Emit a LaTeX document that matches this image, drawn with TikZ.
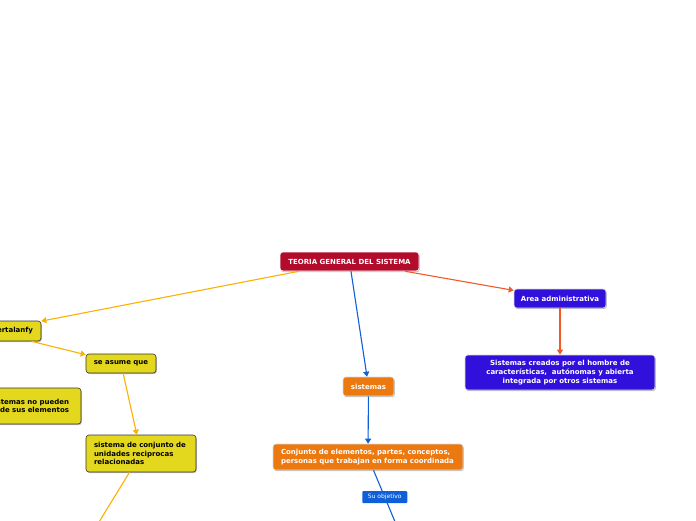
\documentclass[tikz,border=0pt]{standalone}
\usepackage{fontspec}
\setmainfont{DejaVu Sans}
\usepackage{xcolor}
\usetikzlibrary{positioning, arrows.meta, shadows}

\definecolor{rootred}{RGB}{178,11,44}
\definecolor{adminblue}{RGB}{50,16,220}
\definecolor{sysorange}{RGB}{236,120,16}
\definecolor{ideayellow}{RGB}{228,216,30}
\definecolor{linkblue}{RGB}{14,95,216}
\definecolor{linkorange}{RGB}{253,176,0}
\definecolor{linkred}{RGB}{240,90,40}

\tikzset{
    idea/.style={rounded corners=3pt, inner sep=0pt, line width=0.6pt,
        font=\bfseries\fontsize{7}{8.7}\selectfont,
        drop shadow={shadow xshift=0.8pt, shadow yshift=-1.2pt, opacity=0.35, fill=black!70}},
    rootidea/.style={idea, fill=rootred, draw=white, text=white},
    adminidea/.style={idea, fill=adminblue, draw=white!85!black, text=white},
    sysidea/.style={idea, fill=sysorange, draw=white!85!black, text=white},
    yellowidea/.style={idea, fill=ideayellow, draw=black!80, text=black},
    tag/.style={fill=linkblue, text=white, rounded corners=1pt, inner sep=0pt,
        minimum width=45pt, minimum height=12pt, font=\fontsize{6}{7}\selectfont},
    link/.style={line width=1.1pt, -{Triangle[length=5pt, width=6pt]}}
}

\begin{document}
\begin{tikzpicture}[x=1pt, y=-1pt]

    \useasboundingbox (0,0) rectangle (696,520);

    \node[rootidea, minimum width=139pt, minimum height=19pt] (teoria) at (349.5,261.5) {TEORIA GENERAL DEL SISTEMA};

    \node[adminidea, minimum width=92pt, minimum height=19pt] (area) at (560,298.5) {Area administrativa};

    \node[adminidea, minimum width=190pt, minimum height=35pt, align=center] (creados) at (560,372.5) {Sistemas creados por el hombre de\\caracter\'isticas,~ aut\'onomas y abierta\\integrada por otros sistemas};

    \node[sysidea, minimum width=51pt, minimum height=19pt] (sistemas) at (368.5,386.5) {sistemas};

    \node[sysidea, minimum width=190pt, minimum height=26pt, text width=174pt, align=left] (conjunto) at (368,457) {Conjunto de elementos, partes, conceptos,\\personas que trabajan en forma coordinada};

    \coordinate (objetivoend) at (409.7,557);

    \node[yellowidea, inner xsep=8pt, text width=86pt, align=right, minimum height=20pt] (bertalanfy) at (-10,331) {ertalanfy};

    \node[yellowidea, minimum width=70pt, minimum height=19pt] (asume) at (121,363.5) {se asume que};

    \node[yellowidea, inner xsep=12pt, text width=108pt, align=right, minimum height=36pt] (nopueden) at (15,406) {stemas no pueden\\de sus elementos};

    \node[yellowidea, minimum width=110pt, minimum height=37pt, text width=94pt, align=left] (unidades) at (141,453.5) {sistema de conjunto de\\unidades reciprocas\\relacionadas};

    \coordinate (unidadesend) at (80,553);

    \draw[link, linkorange] (teoria) -- (bertalanfy);

    \draw[link, linkred] (teoria) -- (area);

    \draw[link, linkblue] (teoria) -- (sistemas);

    \draw[link, linkred] (area) -- (creados);

    \draw[link, linkblue] (sistemas) -- (conjunto);

    \draw[link, linkblue] (conjunto) -- node[tag, pos=0.31] (objetivo) {Su objetivo} (objetivoend);

    \draw[link, linkorange] (bertalanfy) -- (asume);

    \draw[link, linkorange] (asume) -- (unidades);

    \draw[link, linkorange] (unidades) -- (unidadesend);

\end{tikzpicture}
\end{document}
